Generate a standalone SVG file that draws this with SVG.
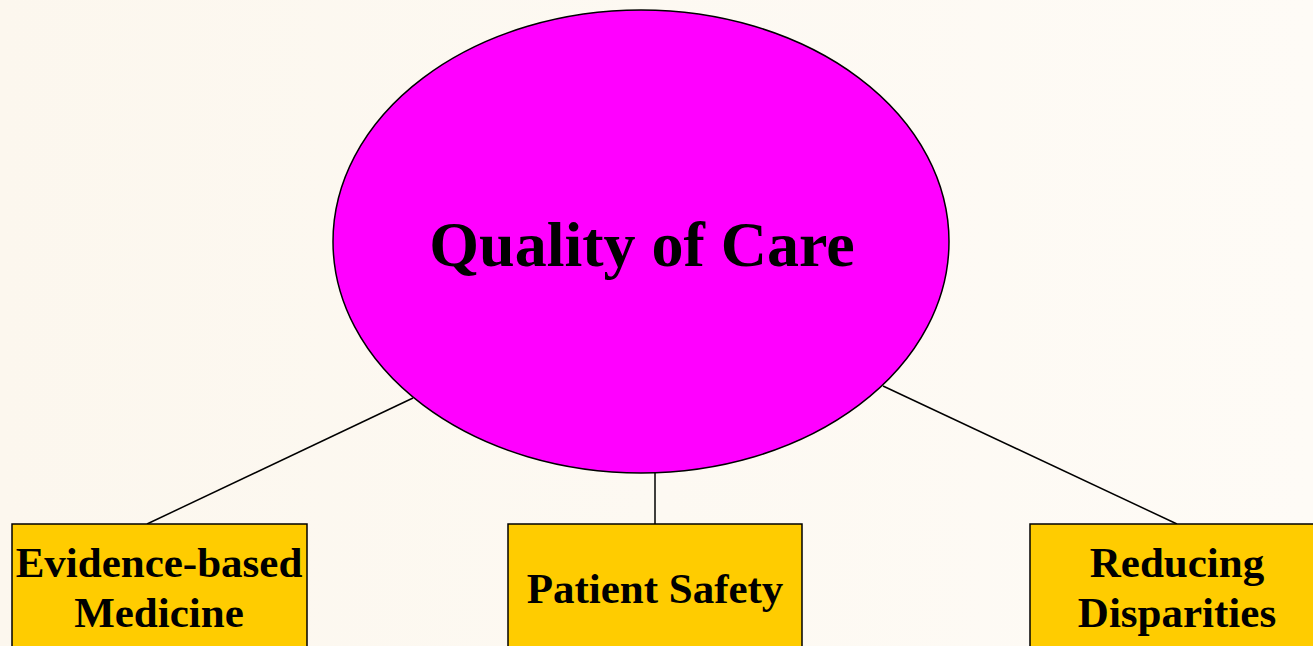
<svg xmlns="http://www.w3.org/2000/svg" width="1313" height="646" viewBox="0 0 1313 646">
<style>
.box{fill:#FFCC00;stroke:#000;stroke-width:1.5}
.lbl{font-family:"Liberation Serif","Times New Roman",serif;font-weight:bold;fill:#000;text-anchor:middle}
.conn line{stroke:#000;stroke-width:1.5}
</style>
<defs>
<linearGradient id="bg" x1="0" y1="0" x2="1" y2="0">
<stop offset="0" stop-color="#FCF7EE"/>
<stop offset="1" stop-color="#FEFBF6"/>
</linearGradient>
</defs>
<rect x="0" y="0" width="1313" height="646" fill="url(#bg)"/>
<g id="connectors" class="conn">
<line x1="413" y1="398" x2="147" y2="524"/>
<line x1="655" y1="473" x2="655" y2="524"/>
<line x1="883" y1="386" x2="1177" y2="524"/>
</g>
<g id="quality">
<ellipse cx="641" cy="241.5" rx="308" ry="231.5" fill="#FF00FF" stroke="#000" stroke-width="1.5"/>
<text class="lbl" x="642" y="266" font-size="64">Quality of Care</text>
</g>
<g id="ebm">
<rect class="box" x="12" y="524" width="295" height="140"/>
<text class="lbl" x="159" y="577" font-size="43">Evidence-based</text>
<text class="lbl" x="159" y="627" font-size="43">Medicine</text>
</g>
<g id="safety">
<rect class="box" x="508" y="524" width="294" height="140"/>
<text class="lbl" x="655" y="603" font-size="43">Patient Safety</text>
</g>
<g id="disparities">
<rect class="box" x="1030" y="524" width="295" height="140"/>
<text class="lbl" x="1177" y="577" font-size="43">Reducing</text>
<text class="lbl" x="1177" y="627" font-size="43">Disparities</text>
</g>
</svg>
